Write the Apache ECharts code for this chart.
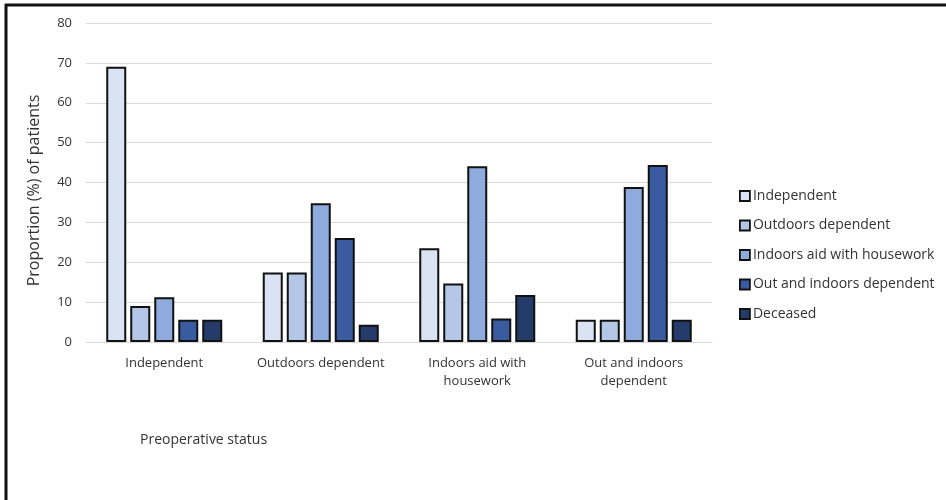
<!DOCTYPE html>
<html>
<head>
<meta charset="utf-8">
<script src="https://cdn.jsdelivr.net/npm/echarts@6/dist/echarts.min.js"></script>
<style>
  html, body { margin: 0; padding: 0; background: #ffffff; }
  #chart { width: 946px; height: 500px; }
</style>
</head>
<body>
<div id="chart"></div>
<script>
// Preoperative status groups (x-axis categories)
const categories = [
  'Independent',
  'Outdoors dependent',
  'Indoors aid with\nhousework',
  'Out and indoors\ndependent'
];

// Postoperative outcome series names
const seriesNames = [
  'Independent',
  'Outdoors dependent',
  'Indoors aid with housework',
  'Out and indoors dependent',
  'Deceased'
];

// Proportion (%) of patients per outcome, one value per preoperative group
const independent        = [69.0, 17.4, 23.5, 5.6];
const outdoorsDependent  = [9.0, 17.4, 14.7, 5.6];
const indoorsAid         = [11.2, 34.8, 44.1, 38.9];
const outAndIndoors      = [5.6, 26.1, 5.9, 44.4];
const deceased           = [5.6, 4.3, 11.8, 5.6];

// Y-axis ticks
const yTicks = [0, 10, 20, 30, 40, 50, 60, 70, 80];

const seriesValues = [independent, outdoorsDependent, indoorsAid, outAndIndoors, deceased];
const fills = ['#dae3f3', '#b4c7e7', '#8faadc', '#3a5ba0', '#253c6a'];

const textColor = '#333333';
const fontFamily = '"Open Sans", "Noto Sans", sans-serif';

const chart = echarts.init(document.getElementById('chart'), null, { renderer: 'canvas' });

chart.setOption({
  backgroundColor: '#ffffff',
  animation: false,
  textStyle: { fontFamily: fontFamily, color: textColor },
  grid: { left: 86, right: 234, top: 23, bottom: 158, containLabel: false },
  legend: {
    orient: 'vertical',
    left: 739,
    top: 189,
    padding: 0,
    icon: 'rect',
    itemWidth: 10,
    itemHeight: 10,
    itemGap: 15.5,
    itemStyle: { borderColor: '#111111', borderWidth: 1.8 },
    textStyle: { fontFamily: fontFamily, fontSize: 14, color: textColor, padding: [0, 0, 0, -2] },
    data: seriesNames
  },
  xAxis: {
    type: 'category',
    data: categories,
    axisLine: { show: true, lineStyle: { color: '#d9d9d9', width: 1 } },
    axisTick: { show: false },
    axisLabel: {
      color: textColor,
      fontSize: 13,
      fontFamily: fontFamily,
      margin: 12,
      lineHeight: 18,
      interval: 0
    }
  },
  yAxis: {
    type: 'value',
    min: yTicks[0],
    max: yTicks[yTicks.length - 1],
    interval: 10,
    name: 'Proportion (%) of patients',
    nameLocation: 'middle',
    nameGap: 44,
    nameTextStyle: { color: textColor, fontSize: 16, fontFamily: fontFamily, padding: [0, 16, 0, 0] },
    axisLine: { show: false },
    axisTick: { show: false },
    splitLine: { lineStyle: { color: '#d9d9d9', width: 1 } },
    axisLabel: { color: textColor, fontSize: 13, fontFamily: fontFamily, margin: 14 }
  },
  series: seriesNames.map((name, i) => ({
    name: name,
    type: 'bar',
    data: seriesValues[i],
    barWidth: 20,
    barGap: '20%',
    itemStyle: { color: fills[i], borderColor: '#111111', borderWidth: 2 }
  })),
  graphic: [
    {
      type: 'text',
      left: 140,
      top: 433,
      style: { text: 'Preoperative status', fontSize: 14, fontFamily: fontFamily, fill: textColor }
    },
    {
      type: 'line',
      shape: { x1: 6, y1: 4, x2: 6, y2: 500 },
      style: { stroke: '#111111', lineWidth: 3 }
    },
    {
      type: 'line',
      shape: { x1: 5, y1: 5, x2: 946, y2: 5 },
      style: { stroke: '#111111', lineWidth: 3 }
    }
  ]
});
</script>
</body>
</html>
